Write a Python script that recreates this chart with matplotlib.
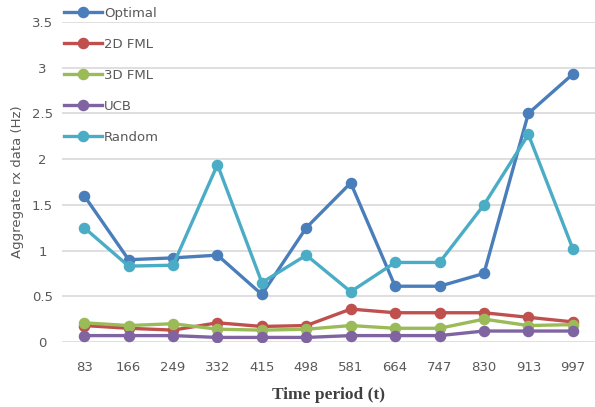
import matplotlib

matplotlib.use("Agg")
import matplotlib.pyplot as plt
import numpy as np

periods = ["83", "166", "249", "332", "415", "498", "581", "664", "747", "830", "913", "997"]
optimal = [1.60, 0.90, 0.92, 0.95, 0.52, 1.25, 1.74, 0.61, 0.61, 0.75, 2.50, 2.93]
fml_2d = [0.18, 0.15, 0.13, 0.21, 0.17, 0.18, 0.36, 0.32, 0.32, 0.32, 0.27, 0.22]
fml_3d = [0.21, 0.18, 0.20, 0.14, 0.13, 0.14, 0.18, 0.15, 0.15, 0.25, 0.18, 0.19]
ucb = [0.07, 0.07, 0.07, 0.05, 0.05, 0.05, 0.07, 0.07, 0.07, 0.12, 0.12, 0.12]
rand = [1.25, 0.83, 0.84, 1.94, 0.65, 0.95, 0.55, 0.87, 0.87, 1.50, 2.27, 1.02]

series = [
    ("Optimal", optimal, "#4A7EBB"),
    ("2D FML", fml_2d, "#C0504D"),
    ("3D FML", fml_3d, "#9BBB59"),
    ("UCB", ucb, "#8064A2"),
    ("Random", rand, "#4BACC6"),
]

grey = "#595959"
fig = plt.figure(figsize=(5.95, 4.07), dpi=100)
ax = fig.add_axes([62 / 595, 1 - 342 / 407, 1 - 62 / 595, 320 / 407])

x = np.arange(len(periods)) + 0.5
for name, vals, col in series:
    ax.plot(x, vals, color=col, lw=2.4, marker="o", ms=7.3, label=name, zorder=3)

ax.set_xlim(0, len(periods))
ax.set_ylim(0, 3.5)
ax.set_xticks(x, periods)
ax.set_yticks(np.arange(0, 3.51, 0.5), ["0", "0.5", "1", "1.5", "2", "2.5", "3", "3.5"])
ax.grid(axis="y", color="#D9D9D9", lw=1.2)
ax.set_axisbelow(True)
for s in ax.spines.values():
    s.set_visible(False)
ax.tick_params(length=0, colors=grey, labelsize=9.5)
ax.tick_params(axis="x", pad=14)
ax.tick_params(axis="y", pad=14)
for t in ax.get_yticklabels():
    t.set_horizontalalignment("center")

ax.set_ylabel("Aggregate rx data (Hz)", color=grey, fontsize=9.5, labelpad=6)
ax.set_xlabel("Time period (t)", family="Liberation Serif", fontweight="bold",
              fontsize=12.5, color="#404040", labelpad=9)

fig.legend(loc="upper left", bbox_to_anchor=(60 / 595, 1 - 3 / 407), frameon=False,
           fontsize=9.5, labelcolor=grey, labelspacing=1.36, handlelength=2.9,
           handletextpad=0.15, borderpad=0.3, borderaxespad=0)

fig.savefig("out.png", dpi=100)
